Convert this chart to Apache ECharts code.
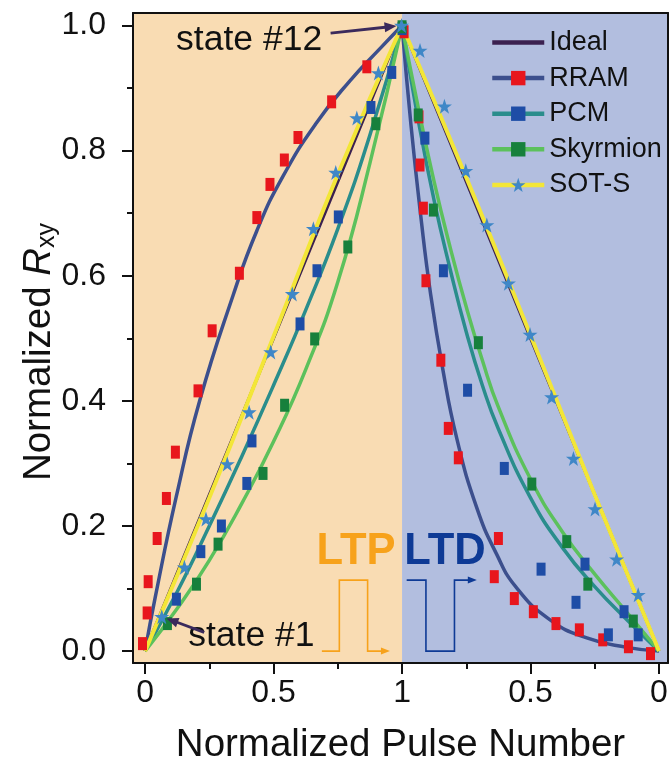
<!DOCTYPE html>
<html>
<head>
<meta charset="utf-8">
<script src="https://cdn.jsdelivr.net/npm/echarts@6/dist/echarts.min.js"></script>
<style>
  html, body { margin: 0; padding: 0; background: #ffffff; }
  #chart { width: 672px; height: 769px; }
</style>
</head>
<body>
<div id="chart"></div>
<script>
// Normalized pulse number runs 0 -> 1 for potentiation (LTP) and 1 -> 2 for depression (LTD).
const xTickValues = [0, 0.5, 1, 1.5, 2];
const xTickLabels = ['0', '0.5', '1', '0.5', '0'];
const xMinorTicks = [0.25, 0.75, 1.25, 1.75];
const yTickValues = [0, 0.2, 0.4, 0.6, 0.8, 1.0];
const yTickLabels = ['0.0', '0.2', '0.4', '0.6', '0.8', '1.0'];
const yMinorTicks = [0.1, 0.3, 0.5, 0.7, 0.9];

const idealLine = [[0, 0], [1, 1], [2, 0]];

// Measured states
const rramPoints = [
  [-0.01, 0.012], [0.008, 0.061], [0.012, 0.111], [0.047, 0.180], [0.083, 0.244], [0.118, 0.318],
  [0.206, 0.416], [0.261, 0.512], [0.367, 0.604], [0.435, 0.693], [0.486, 0.746], [0.542, 0.785],
  [0.595, 0.821], [0.726, 0.878], [0.863, 0.934], [1.008, 0.990],
  [1.066, 0.854], [1.070, 0.777], [1.083, 0.708], [1.093, 0.592], [1.151, 0.465], [1.180, 0.356],
  [1.219, 0.309], [1.375, 0.180], [1.359, 0.119], [1.437, 0.084], [1.511, 0.063], [1.599, 0.044],
  [1.690, 0.034], [1.781, 0.018], [1.881, 0.007], [1.967, -0.004]
];
const pcmPoints = [
  [0.122, 0.083], [0.217, 0.159], [0.297, 0.200], [0.396, 0.268], [0.416, 0.336], [0.603, 0.523],
  [0.669, 0.608], [0.752, 0.694], [0.879, 0.869], [0.960, 0.925], [1.000, 0.995],
  [1.089, 0.820], [1.161, 0.608], [1.255, 0.417], [1.398, 0.292], [1.541, 0.131], [1.677, 0.078],
  [1.712, 0.139], [1.803, 0.026], [1.864, 0.063], [1.919, 0.026]
];
const skyrmionPoints = [
  [0.087, 0.044], [0.200, 0.107], [0.284, 0.171], [0.459, 0.284], [0.543, 0.393], [0.660, 0.499],
  [0.789, 0.646], [0.898, 0.843], [1.000, 0.998],
  [1.063, 0.857], [1.122, 0.705], [1.297, 0.493], [1.505, 0.267], [1.641, 0.175], [1.723, 0.107],
  [1.900, 0.048]
];
const sotPoints = [
  [0.065, 0.055], [0.153, 0.134], [0.237, 0.211], [0.320, 0.299], [0.405, 0.382], [0.489, 0.478],
  [0.573, 0.571], [0.655, 0.675], [0.742, 0.765], [0.824, 0.852], [0.908, 0.924], [0.998, 1.000],
  [1.070, 0.960], [1.165, 0.871], [1.248, 0.768], [1.330, 0.681], [1.414, 0.588], [1.498, 0.506],
  [1.582, 0.406], [1.667, 0.308], [1.751, 0.227], [1.835, 0.147], [1.919, 0.090]
];

// Fitted curves
const rramFitLtp = [[0, 0], [0.04, 0.087], [0.122, 0.248], [0.213, 0.401], [0.342, 0.568], [0.435, 0.672],
  [0.538, 0.76], [0.668, 0.845], [0.798, 0.912], [0.914, 0.963], [1, 1]];
const rramFitLtd = [[1, 1], [1.035, 0.84], [1.073, 0.695], [1.11, 0.574], [1.158, 0.452], [1.213, 0.34],
  [1.291, 0.229], [1.368, 0.155], [1.446, 0.101], [1.576, 0.050], [1.719, 0.021], [1.874, 0.006], [2, 0]];
const pcmFitLtp = [[0, 0], [0.125, 0.095], [0.25, 0.2], [0.375, 0.31], [0.5, 0.425], [0.625, 0.545],
  [0.75, 0.675], [0.875, 0.825], [1, 1]];
const pcmFitLtd = [[1, 1], [1.0625, 0.85], [1.125, 0.72], [1.1875, 0.61], [1.25, 0.51], [1.3125, 0.425],
  [1.375, 0.355], [1.5, 0.245], [1.625, 0.165], [1.75, 0.103], [1.875, 0.05], [2, 0]];
const skyrmionFitLtp = [[0, 0], [0.125, 0.068], [0.25, 0.145], [0.375, 0.235], [0.5, 0.335], [0.625, 0.45],
  [0.75, 0.59], [0.875, 0.78], [1, 1]];
const skyrmionFitLtd = [[1, 1], [1.0625, 0.87], [1.125, 0.75], [1.1875, 0.645], [1.25, 0.55], [1.3125, 0.465],
  [1.375, 0.39], [1.5, 0.275], [1.625, 0.19], [1.75, 0.123], [1.875, 0.062], [2, 0]];
const sotFitLtp = [[0, 0], [0.25, 0.245], [0.5, 0.503], [0.75, 0.762], [1, 1]];
const sotFitLtd = [[1, 1], [1.25, 0.757], [1.5, 0.505], [1.75, 0.25], [2, 0]];

// Axis extents
const xMin = -0.047, xMax = 2.035;
const yMin = -0.019, yMax = 1.02;

const FONT = '"Liberation Sans", Arial, Helvetica, sans-serif';
const INK = '#111111';
const STAR = 'path://M50,0 L61.8,35.1 L98.1,35.1 L68.8,56.7 L79.4,91.9 L50,70.5 L20.6,91.9 L31.2,56.7 L1.9,35.1 L38.2,35.1 Z';

const C = {
  ideal: '#3b2150',
  rramLine: '#3c4f8d', rramMark: '#e8161d',
  pcmLine: '#2a8d8c', pcmMark: '#1e4da6',
  skyLine: '#5cc15c', skyMark: '#17803c',
  sotLine: '#f3e637', sotMark: '#3f87c7',
  ltpBg: '#f9dcb3', ltdBg: '#b2bedf',
  ltp: '#f7a21b', ltd: '#0e3a95', pointer: '#3b2a5c'
};

function fitSeries(name, data, lineColor, markColor, symbol, width) {
  return {
    name: name, type: 'line', data: data, smooth: 0.5, showSymbol: false,
    symbol: symbol, symbolSize: symbol === 'rect' ? [9, 13] : 15,
    lineStyle: { color: lineColor, width: width },
    itemStyle: { color: markColor },
    silent: true, z: 3, animation: false
  };
}
function markSeries(name, data, color, symbol, size) {
  return {
    name: name, type: 'scatter', data: data, symbol: symbol, symbolSize: size,
    itemStyle: { color: color, opacity: 1 }, silent: true, z: 4, animation: false
  };
}

const chart = echarts.init(document.getElementById('chart'), null, { renderer: 'canvas' });

const tickLabel = function (values, labels) {
  return function (v) {
    for (let i = 0; i < values.length; i++) if (Math.abs(values[i] - v) < 1e-6) return labels[i];
    return '';
  };
};

const frameLine = { show: true, onZero: false, lineStyle: { color: INK, width: 2 } };

chart.setOption({
  animation: false,
  backgroundColor: '#ffffff',
  grid: { left: 133, right: 4, top: 13, bottom: 106, containLabel: false, outerBoundsMode: 'none' },
  legend: {
    orient: 'vertical', left: 490, top: 29, padding: 0,
    itemWidth: 52, itemHeight: 18, itemGap: 8.6, selectedMode: false,
    lineStyle: { width: 4.5 },
    textStyle: { fontFamily: FONT, fontSize: 27, color: INK, lineHeight: 27 },
    data: [{ name: 'Ideal', icon: 'path://M0,0H52V4.5H0Z' }, 'RRAM', 'PCM', 'Skyrmion', 'SOT-S']
  },
  xAxis: [
    {
      type: 'value', min: xMin, max: xMax, position: 'bottom', z: 5,
      name: 'Normalized Pulse Number', nameLocation: 'middle', nameGap: 63, nameMoveOverlap: false,
      nameTextStyle: { fontFamily: FONT, fontSize: 38.5, color: INK },
      axisLine: frameLine,
      axisTick: { show: true, customValues: xTickValues, length: 11, lineStyle: { color: INK, width: 2 } },
      axisLabel: { customValues: xTickValues, formatter: tickLabel(xTickValues, xTickLabels),
        fontFamily: FONT, fontSize: 32, color: INK, margin: 14 },
      splitLine: { show: false }
    },
    {
      type: 'value', min: xMin, max: xMax, position: 'bottom', z: 5,
      axisLine: { show: false, onZero: false },
      axisTick: { show: true, customValues: xMinorTicks, length: 6, lineStyle: { color: INK, width: 2 } },
      axisLabel: { show: false }, splitLine: { show: false }
    },
    {
      type: 'value', min: xMin, max: xMax, position: 'top', z: 5,
      axisLine: frameLine,
      axisTick: { show: false }, axisLabel: { show: false }, splitLine: { show: false }
    }
  ],
  yAxis: [
    {
      type: 'value', min: yMin, max: yMax, position: 'left', z: 5,
      name: '{a|Normalized }{i|R}{s|xy}', nameLocation: 'middle', nameGap: 73, nameRotate: 90,
      nameMoveOverlap: false,
      nameTextStyle: {
        fontFamily: FONT, color: INK, padding: [0, 28, 0, 0],
        rich: {
          a: { fontFamily: FONT, fontSize: 38.5, color: INK, lineHeight: 42, verticalAlign: 'middle' },
          i: { fontFamily: FONT, fontSize: 38.5, color: INK, fontStyle: 'italic', lineHeight: 42, verticalAlign: 'middle' },
          s: { fontFamily: FONT, fontSize: 25, color: INK, lineHeight: 25, verticalAlign: 'bottom' }
        }
      },
      axisLine: frameLine,
      axisTick: { show: true, customValues: yTickValues, length: 11, lineStyle: { color: INK, width: 2 } },
      axisLabel: { customValues: yTickValues, formatter: tickLabel(yTickValues, yTickLabels),
        fontFamily: FONT, fontSize: 32, color: INK, margin: 27 },
      splitLine: { show: false }
    },
    {
      type: 'value', min: yMin, max: yMax, position: 'left', z: 5,
      axisLine: { show: false, onZero: false },
      axisTick: { show: true, customValues: yMinorTicks, length: 6, lineStyle: { color: INK, width: 2 } },
      axisLabel: { show: false }, splitLine: { show: false }
    },
    {
      type: 'value', min: yMin, max: yMax, position: 'right', z: 5,
      axisLine: frameLine,
      axisTick: { show: false }, axisLabel: { show: false }, splitLine: { show: false }
    }
  ],
  series: [
    {
      name: 'regions', type: 'line', data: [], z: 1, silent: true,
      markArea: {
        silent: true,
        data: [
          [{ xAxis: xMin, itemStyle: { color: C.ltpBg } }, { xAxis: 1 }],
          [{ xAxis: 1, itemStyle: { color: C.ltdBg } }, { xAxis: xMax }]
        ]
      }
    },
    {
      name: 'Ideal', type: 'line', data: idealLine, showSymbol: false, symbol: 'none',
      lineStyle: { color: C.ideal, width: 3 }, itemStyle: { color: C.ideal }, silent: true, z: 2
    },
    fitSeries('RRAM', rramFitLtp, C.rramLine, C.rramMark, 'rect', 3.5),
    fitSeries('PCM', pcmFitLtp, C.pcmLine, C.pcmMark, 'rect', 3.5),
    fitSeries('Skyrmion', skyrmionFitLtp, C.skyLine, C.skyMark, 'rect', 3.5),
    fitSeries('SOT-S', sotFitLtp, C.sotLine, C.sotMark, STAR, 4),
    fitSeries('RRAM', rramFitLtd, C.rramLine, C.rramMark, 'rect', 3.5),
    fitSeries('PCM', pcmFitLtd, C.pcmLine, C.pcmMark, 'rect', 3.5),
    fitSeries('Skyrmion', skyrmionFitLtd, C.skyLine, C.skyMark, 'rect', 3.5),
    fitSeries('SOT-S', sotFitLtd, C.sotLine, C.sotMark, STAR, 4),
    markSeries('RRAM states', rramPoints, C.rramMark, 'rect', [9, 13]),
    markSeries('PCM states', pcmPoints, C.pcmMark, 'rect', [9, 13]),
    markSeries('Skyrmion states', skyrmionPoints, C.skyMark, 'rect', [9, 13]),
    markSeries('SOT-S states', sotPoints, C.sotMark, STAR, 15)
  ]
});

// Annotations placed in data space
const stateNotes = [
  { text: 'state #12', at: [0.689, 0.977], align: 'right', from: [0.722, 0.988], to: sotPoints[11] },
  { text: 'state #1', at: [0.168, 0.024], align: 'left', from: [0.230, 0.030], to: sotPoints[0] }
];
const pulseNotes = [
  { text: 'LTP', at: [0.821, 0.158], color: C.ltp,
    path: [[0.688, 0], [0.756, 0], [0.756, 0.1135], [0.866, 0.1135], [0.866, 0], [0.953, 0]] },
  { text: 'LTD', at: [1.167, 0.158], color: C.ltd,
    path: [[1.018, 0.1135], [1.093, 0.1135], [1.093, 0], [1.204, 0], [1.204, 0.1135], [1.291, 0.1135]] }
];

function px(p) { return chart.convertToPixel({ gridIndex: 0 }, p); }
function arrowHead(tip, back, len, half, color) {
  const dx = tip[0] - back[0], dy = tip[1] - back[1];
  const d = Math.hypot(dx, dy) || 1, ux = dx / d, uy = dy / d;
  const bx = tip[0] - ux * len, by = tip[1] - uy * len;
  return {
    type: 'polygon', z: 20, silent: true,
    shape: { points: [tip, [bx - uy * half, by + ux * half], [bx + uy * half, by - ux * half]] },
    style: { fill: color }
  };
}

const graphics = [];
stateNotes.forEach(function (n) {
  const p = px(n.at);
  graphics.push({
    type: 'text', x: p[0], y: p[1], z: 20, silent: true,
    style: { text: n.text, font: '35.5px ' + FONT, fill: INK, align: n.align, verticalAlign: 'middle' }
  });
  const a = px(n.from), s = px(n.to);
  const dx = s[0] - a[0], dy = s[1] - a[1], d = Math.hypot(dx, dy);
  const tip = [s[0] - dx / d * 5, s[1] - dy / d * 5];
  const neck = [tip[0] - dx / d * 9, tip[1] - dy / d * 9];
  graphics.push({
    type: 'line', z: 20, silent: true,
    shape: { x1: a[0], y1: a[1], x2: neck[0], y2: neck[1] },
    style: { stroke: C.pointer, lineWidth: 2.8 }
  });
  graphics.push(arrowHead(tip, a, 12, 5, C.pointer));
});
pulseNotes.forEach(function (n) {
  const p = px(n.at);
  graphics.push({
    type: 'text', x: p[0], y: p[1], z: 20, silent: true,
    style: { text: n.text, font: 'bold 43.5px ' + FONT, fill: n.color, align: 'center', verticalAlign: 'middle' }
  });
  const pts = n.path.map(px);
  const last = pts[pts.length - 1], prev = pts[pts.length - 2];
  const shortened = pts.slice(0, -1).concat([[last[0] - 6, last[1]]]);
  graphics.push({
    type: 'polyline', z: 20, silent: true,
    shape: { points: shortened },
    style: { stroke: n.color, lineWidth: 1.6, fill: null }
  });
  graphics.push(arrowHead(last, prev, 9, 3.5, n.color));
});
chart.setOption({ graphic: graphics });
</script>
</body>
</html>
